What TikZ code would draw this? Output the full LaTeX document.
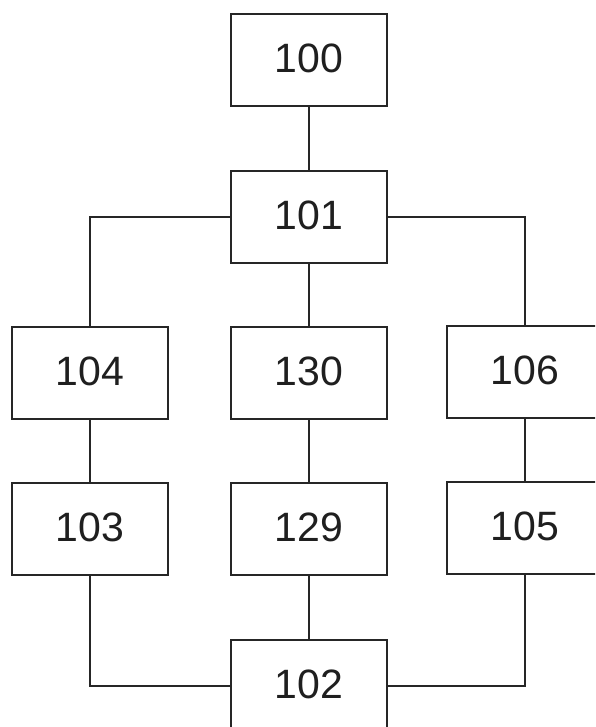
\documentclass[tikz,border=0pt]{standalone}
\usepackage{fontspec}
\setmainfont{Liberation Sans}
\begin{document}
\begin{tikzpicture}[x=1pt,y=-1pt,
  blk/.style={draw=black!85, line width=2.8pt, rectangle, minimum width=156pt, minimum height=92pt, inner sep=0pt, fill=white, font=\fontsize{41}{41}\selectfont, text=black!88},
  conn/.style={draw=black!85, line width=2.8pt}]
\useasboundingbox (0,0) rectangle (595,727);
\begin{scope}
\clip (0,0) rectangle (595,727);
\node[blk] (n100) at (309,60) {\raisebox{3pt}{100}};
\node[blk] (n101) at (309,217) {\raisebox{3pt}{101}};
\node[blk] (n104) at (90,373) {\raisebox{3pt}{104}};
\node[blk] (n130) at (309,373) {\raisebox{3pt}{130}};
\node[blk] (n106) at (525,372) {\raisebox{3pt}{106}};
\node[blk] (n103) at (90,529) {\raisebox{3pt}{103}};
\node[blk] (n129) at (309,529) {\raisebox{3pt}{129}};
\node[blk] (n105) at (525,528) {\raisebox{3pt}{105}};
\node[blk] (n102) at (309,686) {\raisebox{3pt}{102}};
\draw[conn] (n100) -- (n101);
\draw[conn] (n101) -- (n130);
\draw[conn] (n130) -- (n129);
\draw[conn] (n129) -- (n102);
\draw[conn] (n104) -- (n103);
\draw[conn] (n106) -- (n105);
\draw[conn] (n101.west) -| (n104.north);
\draw[conn] (n101.east) -| (n106.north);
\draw[conn] (n103.south) |- (n102.west);
\draw[conn] (n105.south) |- (n102.east);
\end{scope}
\end{tikzpicture}
\end{document}
